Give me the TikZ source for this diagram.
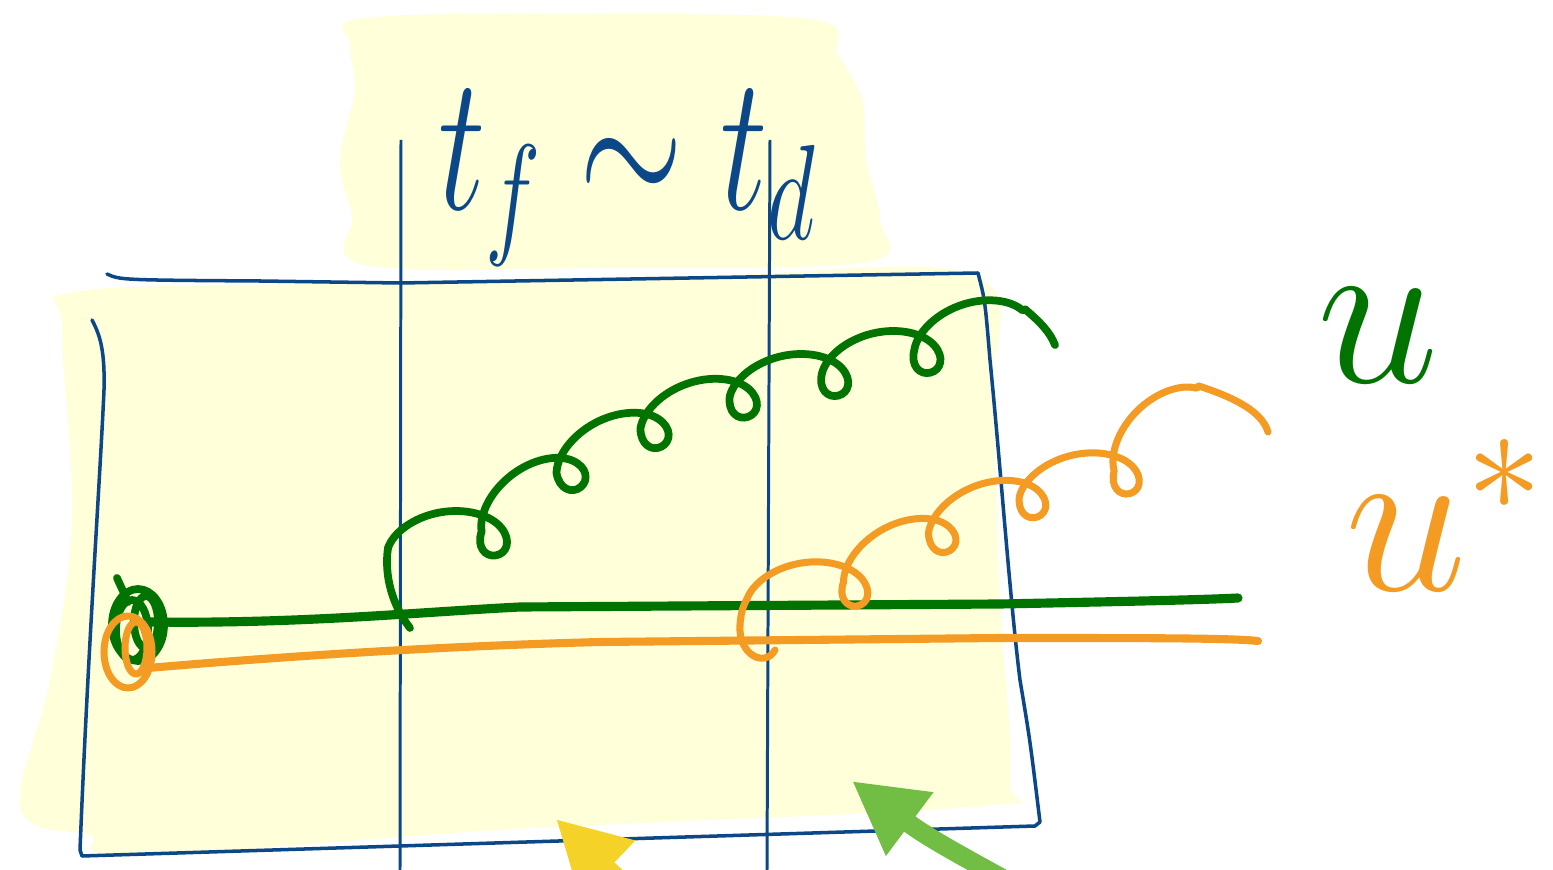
\RequirePackage{fix-cm}
\documentclass[tikz,border=0pt]{standalone}
\usetikzlibrary{arrows.meta, decorations.pathmorphing}

\definecolor{inkblue}{RGB}{12,72,135}
\definecolor{hlyellow}{RGB}{255,255,218}
\definecolor{ugreen}{RGB}{0,115,0}
\definecolor{uorange}{RGB}{243,155,35}
\definecolor{arrowyellow}{RGB}{245,210,40}
\definecolor{arrowgreen}{RGB}{114,190,68}

\begin{document}
\begin{tikzpicture}[
    x=0.01cm, y=-0.01cm,
    hl/.style={fill=hlyellow},
    ink/.style={draw=inkblue, line width=1pt, line cap=round, line join=round},
    rule/.style={draw=inkblue, line width=0.85pt},
    gpath/.style={draw=ugreen, line width=2.6pt, line cap=round, line join=round},
    opath/.style={draw=uorange, line width=2.3pt, line cap=round, line join=round},
    gcoil/.style={gpath, line width=2.2pt, decorate,
                  decoration={coil, amplitude=0.26cm, segment length=0.95cm, aspect=1.3}},
    ocoil/.style={opath, line width=2pt, decorate,
                  decoration={coil, amplitude=0.26cm, segment length=0.98cm, aspect=1.3}},
    bigarrow/.style={draw=#1, line width=0.19cm,
                     -{Triangle[length=0.72cm, width=0.74cm]}}
  ]
  \useasboundingbox (0,0) rectangle (1553,870);
  \clip (0,0) rectangle (1553,870);

  % Highlighter
  \fill[hl] plot[smooth cycle, tension=0.6] coordinates {
    (365,18) (600,14) (815,20) (838,55) (862,100) (866,160) (880,220)
    (865,262) (600,268) (365,265) (352,215) (340,160) (355,90) (350,45)};
  \fill[hl] plot[smooth cycle, tension=0.6] coordinates {
    (75,292) (300,284) (700,276) (975,276) (992,400) (1000,600) (1010,780)
    (980,806) (500,830) (130,856) (90,835) (35,825) (20,790) (50,680)
    (72,520) (62,330)};

  % Box and time marks
  \draw[ink] (107,274) .. controls (120,280) .. (260,281) -- (400,283) -- (978,273)
    .. controls (985,300) .. (990,360) .. controls (1000,460) and (1010,600) .. (1020,680)
    .. controls (1030,740) .. (1040,822) -- (1035,826) -- (82,856) -- (80,850)
    .. controls (88,650) and (100,480) .. (104,390) .. controls (105,350) and (100,335) .. (92,320);
  \draw[rule] (401,140) -- (400,870);
  \draw[rule] (770,140) -- (767,870);

  \node[text=inkblue, font=\fontsize{38}{38}\selectfont, yscale=1.45, transform shape,
        anchor=base west] (ratio) at (426,210) {$t_f \sim t_d$};

  % Straight paths
  \draw[gpath] (150,622) .. controls (300,624) and (420,612) .. (520,607) -- (1000,604)
    .. controls (1100,602) and (1200,600) .. (1238,598);
  \draw[opath] (148,668) .. controls (300,655) and (450,646) .. (600,642) -- (1000,638)
    .. controls (1150,638) and (1230,638) .. (1258,641);

  % Start scribbles
  \draw[gpath, line width=2.2pt] (117,578) -- (128,602)
    (138,625) ellipse [x radius=26, y radius=36]
    (146,622) ellipse [x radius=12, y radius=26]
    (132,630) ellipse [x radius=16, y radius=30];
  \draw[opath, line width=2pt] (128,652) ellipse [x radius=24, y radius=36]
    (136,648) ellipse [x radius=11, y radius=26];

  % Green coil
  \coordinate (gs) at (388,548);
  \draw[gpath, line width=2.2pt] (410,628) .. controls (392,605) and (384,575) .. (gs);
  \draw[gcoil] (gs) -- ++(-10:95) -- ++(-38:95) -- ++(-28:95) -- ++(-20:95)
    -- ++(-14:95) -- ++(-14:95) -- ++(-20:118.5) coordinate (gend);
  \draw[gpath, line width=2.2pt] (gend) .. controls (1040,322) and (1050,332) .. (1055,345);

  % Orange coil
  \coordinate (os) at (747,599);
  \draw[opath, line width=2pt] (775,650) .. controls (765,668) and (738,655) .. (740,625)
    .. controls (741,612) and (743,606) .. (os);
  \draw[ocoil] (os) -- ++(-10:98) -- ++(-30:98) -- ++(-22:98) -- ++(-15:98)
    -- ++(-45:120) coordinate (oend);
  \draw[opath, line width=2pt] (oend) .. controls (1236,398) and (1262,412) .. (1268,432);

  % Labels
  \node[text=ugreen, font=\fontsize{62}{62}\selectfont] (ulabel) at (1378,336) {$u$};
  \node[text=uorange, font=\fontsize{62}{62}\selectfont] (ustar) at (1445,515) {$u^*$};

  % Arrows
  \coordinate (ytail) at (650,910);
  \coordinate (ytip) at (556,819);
  \draw[bigarrow=arrowyellow] (ytail) -- (ytip);
  \coordinate (gtail) at (1050,905);
  \coordinate (gtip) at (852,781);
  \draw[bigarrow=arrowgreen] (gtail) .. controls (985,868) and (935,843) .. (gtip);

\end{tikzpicture}
\end{document}
